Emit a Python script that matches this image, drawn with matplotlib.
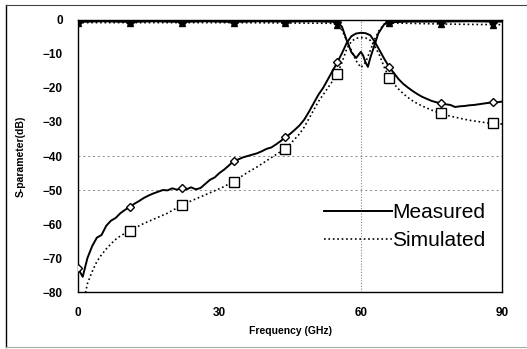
import matplotlib
matplotlib.use("Agg")
import matplotlib.pyplot as plt
import numpy as np
from matplotlib.lines import Line2D

plt.rcParams["font.family"] = ["Liberation Sans", "DejaVu Sans"]

# --- data ------------------------------------------------------------------
freq_meas_s21 = list(range(0, 91))
meas_s21 = [
    -73.0, -75.5, -70.0, -66.5, -64.0, -63.2, -60.5, -59.0, -58.2, -56.8,
    -55.8, -55.0, -54.0, -53.2, -52.3, -51.6, -51.0, -50.5, -50.0, -50.1,
    -49.5, -49.9, -49.3, -49.8, -49.2, -49.8, -49.4, -48.2, -47.0, -46.3,
    -45.0, -44.0, -42.8, -41.5, -41.0, -40.4, -40.0, -39.6, -39.2, -38.6,
    -37.9, -37.5, -36.6, -35.6, -34.5, -33.5, -32.3, -31.0, -29.3, -27.0,
    -24.5, -22.0, -20.0, -17.5, -15.0, -12.5, -9.8, -6.8, -4.8, -4.0,
    -3.8, -3.9, -4.5, -6.5, -9.0, -11.5, -13.8, -15.6, -17.4, -18.8,
    -19.9, -20.9, -21.8, -22.6, -23.2, -23.8, -24.2, -24.5, -24.8, -25.0,
    -25.6, -25.4, -25.3, -25.1, -25.0, -24.8, -24.6, -24.4, -24.2, -24.2,
    -24.0,
]

freq_sim_s21 = list(range(1, 91))
sim_s21 = [
    -84.0, -77.5, -74.0, -71.0, -69.0, -67.3, -65.8, -64.5, -63.5, -62.7,
    -62.0, -61.2, -60.5, -59.8, -59.2, -58.6, -58.0, -57.4, -56.8, -56.0,
    -55.3, -54.5, -53.8, -53.2, -52.6, -52.0, -51.4, -50.8, -50.2, -49.6,
    -49.0, -48.2, -47.5, -46.6, -45.7, -44.8, -44.0, -43.2, -42.3, -41.4,
    -40.5, -39.6, -38.7, -37.8, -36.5, -35.0, -33.5, -31.5, -29.0, -26.5,
    -24.0, -22.0, -20.0, -18.0, -16.0, -12.5, -8.5, -6.3, -5.4, -5.2,
    -5.3, -6.0, -7.8, -10.5, -14.0, -17.0, -18.8, -20.3, -21.7, -22.8,
    -23.8, -24.6, -25.3, -25.9, -26.5, -27.0, -27.5, -27.9, -28.3, -28.6,
    -28.9, -29.2, -29.5, -29.7, -29.9, -30.1, -30.3, -30.4, -30.5, -30.6,
]

freq_meas_s11 = [
    0, 5, 11, 16, 22, 27, 33, 38, 44, 50, 55, 56, 57, 58, 59, 60,
    60.5, 61, 61.5, 62, 63, 63.7, 65, 66, 70, 77, 83, 88, 90,
]
meas_s11 = [
    -0.6, -0.4, -0.6, -0.4, -0.6, -0.4, -0.6, -0.4, -0.5, -0.4, -0.6, -2.0,
    -6.0, -9.5, -11.2, -9.4, -10.5, -12.5, -13.8, -11.2, -7.0, -4.0, -1.2,
    -0.7, -0.5, -0.5, -0.4, -0.5, -0.5,
]

freq_sim_s11 = [
    0, 11, 22, 33, 44, 54, 55, 56, 57, 58, 59, 60, 61, 62, 63, 64, 65,
    66, 70, 77, 82, 88, 90,
]
sim_s11 = [
    -0.8, -0.8, -0.8, -0.8, -0.9, -1.0, -1.6, -3.0, -6.0, -9.0, -12.0,
    -14.0, -12.5, -9.0, -5.5, -2.8, -1.3, -0.9, -1.0, -1.2, -1.3, -1.4,
    -1.4,
]

marker_ghz = [0, 11, 22, 33, 44, 55, 66, 77, 88]
legend_labels = ["Measured", "Simulated"]


def marks(freqs):
    return [i for i, f in enumerate(freqs) if f in marker_ghz]


fig = plt.figure(figsize=(5.27, 3.49), dpi=100)
ax = fig.add_axes([0.148, 0.163, 0.805, 0.780])

# grid remnants visible in the scan
for y in (-40, -50):
    ax.axhline(y, color="#888888", lw=0.7, ls=(0, (2, 3)), zorder=0)
ax.axvline(60, color="#888888", lw=0.8, ls=(0, (1, 1.5)), zorder=0)

ax.plot(freq_sim_s21, sim_s21, color="black", lw=1.2, ls=":",
        marker="s", ms=7, mfc="white", mec="black", mew=1.0,
        markevery=marks(freq_sim_s21), zorder=3)
ax.plot(freq_meas_s21, meas_s21, color="black", lw=1.4, ls="-",
        marker="D", ms=4, mfc="white", mec="black", mew=1.0,
        markevery=marks(freq_meas_s21), zorder=4)
ax.plot(freq_sim_s11, sim_s11, color="black", lw=1.2, ls=":",
        marker="^", ms=5, mfc="black", mec="black",
        markevery=marks(freq_sim_s11), zorder=3)
ax.plot(freq_meas_s11, meas_s11, color="black", lw=1.4, ls="-",
        marker="D", ms=4, mfc="black", mec="black",
        markevery=marks(freq_meas_s11), zorder=4)

ax.set_xlim(0, 90)
ax.set_ylim(-80, 0)
ax.set_xticks([0, 30, 60, 90])
ax.set_yticks(range(-80, 1, 10))
ax.tick_params(axis="x", length=0, labelsize=8.5, pad=11)
ax.tick_params(axis="y", length=0, labelsize=8.5, pad=11)
for lbl in ax.get_xticklabels() + ax.get_yticklabels():
    lbl.set_fontweight("bold")
ax.set_xlabel("Frequency (GHz)", fontsize=7.5, fontweight="bold", labelpad=5)
ax.set_ylabel("S-parameter(dB)", fontsize=7.5, fontweight="bold", labelpad=12)
for sp in ax.spines.values():
    sp.set_linewidth(1.0)

handles = [Line2D([], [], color="black", lw=1.4, ls="-"),
           Line2D([], [], color="black", lw=1.2, ls=":")]
ax.legend(handles, legend_labels, loc="lower right",
          bbox_to_anchor=(0.995, 0.10), frameon=False, fontsize=15,
          handlelength=3.3, handletextpad=0.0, labelspacing=0.45,
          borderpad=0.2)

# outer chart border (left / top / bottom)
fig.add_artist(Line2D([6 / 527, 6 / 527], [1 - 5 / 349, 1 - 347 / 349],
                      transform=fig.transFigure, color="black", lw=1.0))
fig.add_artist(Line2D([6 / 527, 1.0], [1 - 5 / 349, 1 - 5 / 349],
                      transform=fig.transFigure, color="#444444", lw=0.8))
fig.add_artist(Line2D([6 / 527, 1.0], [1 - 347 / 349, 1 - 347 / 349],
                      transform=fig.transFigure, color="#aaaaaa", lw=0.8))

fig.savefig("out.png", dpi=100)
